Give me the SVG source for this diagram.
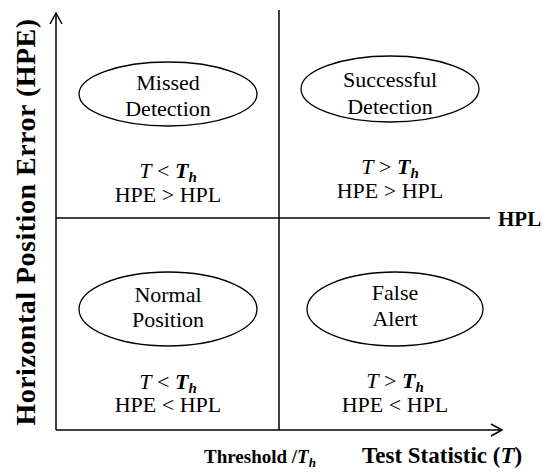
<svg xmlns="http://www.w3.org/2000/svg" width="550" height="473" viewBox="0 0 550 473">
<rect width="550" height="473" fill="#fff"/>
<g id="connectors" stroke="#000" stroke-width="1.5" fill="none">
<line x1="56" y1="430" x2="56" y2="13"/>
<polyline points="50,24 56,13 62,24"/>
<line x1="56" y1="430" x2="502" y2="430"/>
<polyline points="491,424 502,430 491,436"/>
<line x1="279" y1="10" x2="279" y2="430"/>
<line x1="56" y1="218" x2="490" y2="218"/>
</g>
<g id="missed">
<ellipse cx="168" cy="94" rx="89" ry="32" fill="#fff" stroke="#000" stroke-width="1.3"/>
<text font-family="Times New Roman" font-size="22" text-anchor="middle" x="168" y="90">Missed</text>
<text font-family="Times New Roman" font-size="22" text-anchor="middle" x="168" y="116">Detection</text>
<text font-family="Times New Roman" font-size="22" text-anchor="middle" x="168" y="178"><tspan font-style="italic">T</tspan> &lt; <tspan font-style="italic" font-weight="bold">T</tspan><tspan font-style="italic" font-weight="bold" font-size="15" dy="4">h</tspan></text>
<text font-family="Times New Roman" font-size="22" text-anchor="middle" x="168" y="202">HPE &gt; HPL</text>
</g>
<g id="successful">
<ellipse cx="390" cy="89" rx="89" ry="33" fill="#fff" stroke="#000" stroke-width="1.3"/>
<text font-family="Times New Roman" font-size="22" text-anchor="middle" x="390" y="87">Successful</text>
<text font-family="Times New Roman" font-size="22" text-anchor="middle" x="390" y="114">Detection</text>
<text font-family="Times New Roman" font-size="22" text-anchor="middle" x="390" y="174"><tspan font-style="italic">T</tspan> &gt; <tspan font-style="italic" font-weight="bold">T</tspan><tspan font-style="italic" font-weight="bold" font-size="15" dy="4">h</tspan></text>
<text font-family="Times New Roman" font-size="22" text-anchor="middle" x="390" y="198">HPE &gt; HPL</text>
</g>
<g id="normal">
<ellipse cx="168" cy="309" rx="89" ry="37" fill="#fff" stroke="#000" stroke-width="1.3"/>
<text font-family="Times New Roman" font-size="22" text-anchor="middle" x="168" y="302">Normal</text>
<text font-family="Times New Roman" font-size="22" text-anchor="middle" x="168" y="327">Position</text>
<text font-family="Times New Roman" font-size="22" text-anchor="middle" x="168" y="389"><tspan font-style="italic">T</tspan> &lt; <tspan font-style="italic" font-weight="bold">T</tspan><tspan font-style="italic" font-weight="bold" font-size="15" dy="4">h</tspan></text>
<text font-family="Times New Roman" font-size="22" text-anchor="middle" x="168" y="412">HPE &lt; HPL</text>
</g>
<g id="false">
<ellipse cx="395" cy="309" rx="88" ry="37" fill="#fff" stroke="#000" stroke-width="1.3"/>
<text font-family="Times New Roman" font-size="22" text-anchor="middle" x="395" y="300">False</text>
<text font-family="Times New Roman" font-size="22" text-anchor="middle" x="395" y="326">Alert</text>
<text font-family="Times New Roman" font-size="22" text-anchor="middle" x="395" y="388"><tspan font-style="italic">T</tspan> &gt; <tspan font-style="italic" font-weight="bold">T</tspan><tspan font-style="italic" font-weight="bold" font-size="15" dy="4">h</tspan></text>
<text font-family="Times New Roman" font-size="22" text-anchor="middle" x="395" y="412">HPE &lt; HPL</text>
</g>
<g id="labels" font-weight="bold">
<text font-family="Times New Roman" x="498" y="226" font-size="21">HPL</text>
<text font-family="Times New Roman" x="204" y="463" font-size="19">Threshold  /<tspan font-style="italic">T</tspan><tspan font-size="13" font-style="italic" dy="4">h</tspan></text>
<text font-family="Times New Roman" x="362" y="463" font-size="23">Test Statistic (<tspan font-style="italic">T</tspan>)</text>
<text font-family="Times New Roman" transform="translate(35,222) rotate(-90)" text-anchor="middle" font-size="28" letter-spacing="0.5">Horizontal Position Error (HPE)</text>
</g>
</svg>
